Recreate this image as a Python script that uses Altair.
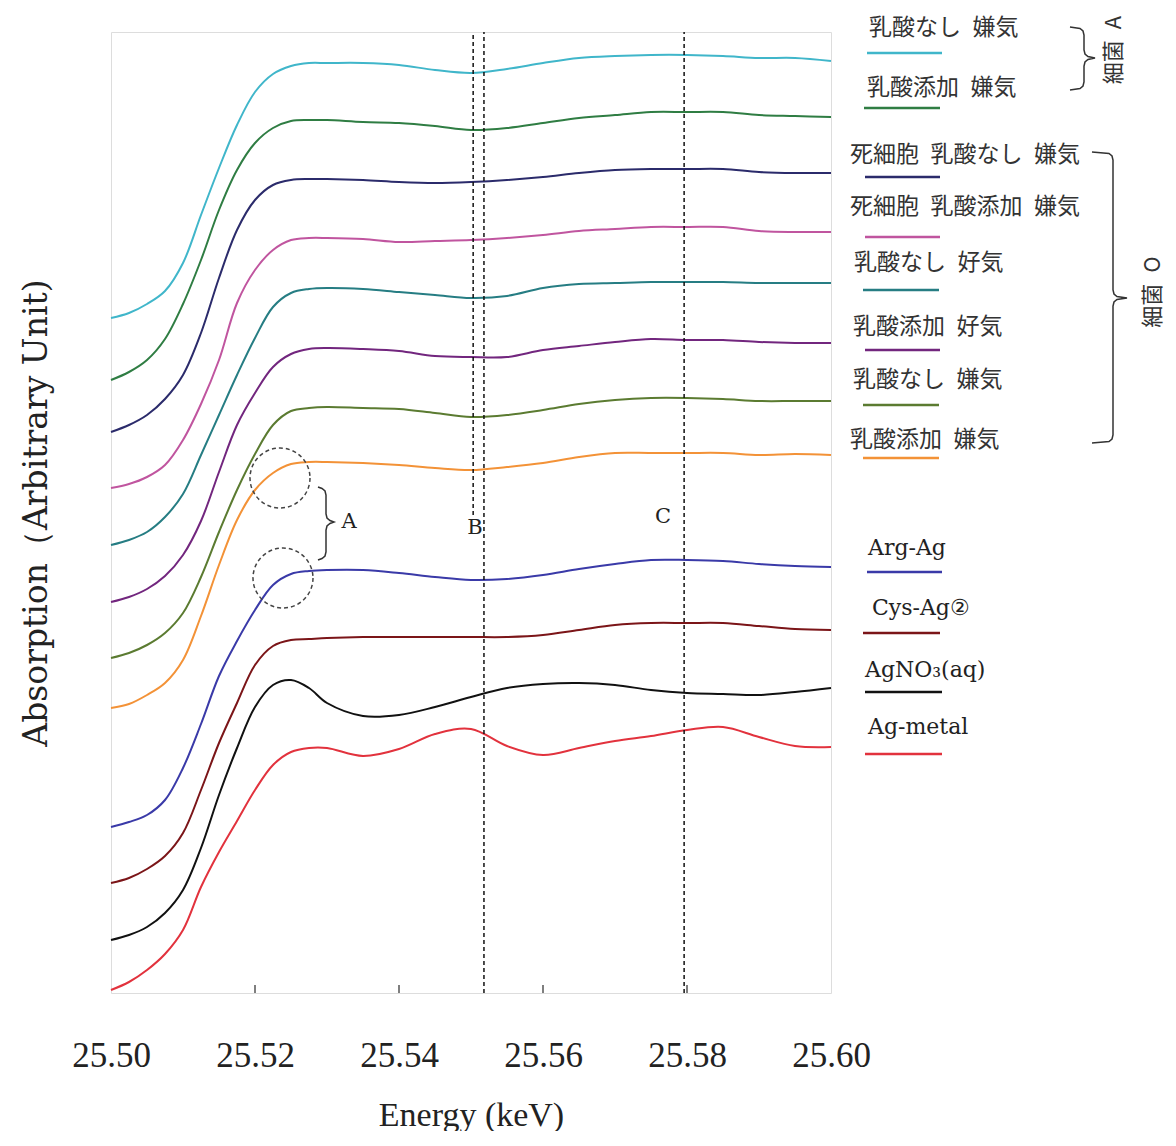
import altair as alt
import pandas as pd

# ---------------- data ----------------
energy = [25.5000, 25.5025, 25.5050, 25.5075, 25.5100, 25.5125, 25.5150, 25.5175,
          25.5200, 25.5225, 25.5250, 25.5275, 25.5300, 25.5350, 25.5400, 25.5450,
          25.5500, 25.5550, 25.5600, 25.5650, 25.5700, 25.5750, 25.5800, 25.5850,
          25.5900, 25.5950, 25.6000]

a_none_an = [6.75, 6.80, 6.89, 7.02, 7.30, 7.78, 8.25, 8.68, 9.01, 9.19, 9.27, 9.30, 9.30, 9.30,
             9.28, 9.23, 9.20, 9.24, 9.30, 9.35, 9.37, 9.38, 9.38, 9.37, 9.35, 9.35, 9.32]
a_lac_an = [6.13, 6.21, 6.33, 6.54, 6.89, 7.33, 7.83, 8.23, 8.50, 8.65, 8.72, 8.73, 8.73, 8.71,
            8.70, 8.67, 8.63, 8.65, 8.70, 8.75, 8.78, 8.81, 8.81, 8.81, 8.78, 8.77, 8.76]
o_dead_none_an = [5.61, 5.68, 5.78, 5.94, 6.18, 6.60, 7.15, 7.63, 7.93, 8.08, 8.13, 8.14, 8.14, 8.13,
                  8.11, 8.10, 8.11, 8.13, 8.16, 8.20, 8.23, 8.24, 8.24, 8.24, 8.21, 8.20, 8.20]
o_dead_lac_an = [5.05, 5.09, 5.16, 5.28, 5.53, 5.89, 6.33, 6.90, 7.23, 7.43, 7.53, 7.55, 7.55, 7.54,
                 7.51, 7.52, 7.53, 7.55, 7.58, 7.62, 7.64, 7.66, 7.66, 7.66, 7.62, 7.61, 7.61]
o_none_aer = [4.48, 4.53, 4.61, 4.76, 4.99, 5.38, 5.78, 6.18, 6.55, 6.86, 7.00, 7.04, 7.05, 7.04,
              7.01, 6.98, 6.95, 6.97, 7.05, 7.09, 7.10, 7.11, 7.11, 7.11, 7.10, 7.10, 7.10]
o_lac_aer = [3.91, 3.96, 4.04, 4.17, 4.38, 4.72, 5.21, 5.68, 6.00, 6.26, 6.39, 6.44, 6.45, 6.44,
             6.42, 6.37, 6.36, 6.36, 6.43, 6.47, 6.51, 6.54, 6.53, 6.53, 6.51, 6.50, 6.50]
o_none_an = [3.35, 3.40, 3.48, 3.60, 3.80, 4.16, 4.61, 5.03, 5.39, 5.68, 5.82, 5.85, 5.86, 5.85,
             5.84, 5.80, 5.76, 5.78, 5.83, 5.89, 5.93, 5.95, 5.95, 5.94, 5.92, 5.92, 5.92]
o_lac_an = [2.85, 2.89, 2.98, 3.10, 3.33, 3.77, 4.28, 4.73, 5.03, 5.20, 5.29, 5.31, 5.31, 5.30,
            5.28, 5.25, 5.23, 5.26, 5.30, 5.36, 5.40, 5.40, 5.40, 5.40, 5.38, 5.39, 5.38]
arg_ag = [1.66, 1.71, 1.78, 1.93, 2.25, 2.69, 3.17, 3.52, 3.83, 4.08, 4.19, 4.22, 4.23, 4.23,
          4.20, 4.16, 4.13, 4.14, 4.18, 4.24, 4.29, 4.33, 4.33, 4.32, 4.29, 4.27, 4.26]
cys_ag = [1.10, 1.15, 1.24, 1.37, 1.60, 2.03, 2.50, 2.90, 3.28, 3.47, 3.53, 3.54, 3.55, 3.56,
          3.56, 3.56, 3.56, 3.56, 3.58, 3.63, 3.68, 3.70, 3.70, 3.70, 3.67, 3.64, 3.63]
agno3 = [0.53, 0.58, 0.66, 0.80, 1.03, 1.45, 1.98, 2.45, 2.86, 3.08, 3.13, 3.05, 2.90, 2.77,
         2.78, 2.86, 2.96, 3.05, 3.09, 3.10, 3.08, 3.03, 3.00, 2.99, 2.98, 3.01, 3.05]
ag_metal = [0.03, 0.11, 0.23, 0.39, 0.63, 1.06, 1.41, 1.72, 2.03, 2.28, 2.41, 2.45, 2.45, 2.37,
            2.44, 2.59, 2.64, 2.47, 2.38, 2.45, 2.52, 2.57, 2.63, 2.66, 2.56, 2.47, 2.46]

series_keys = ["A 乳酸なし 嫌気", "A 乳酸添加 嫌気", "O 死細胞 乳酸なし 嫌気", "O 死細胞 乳酸添加 嫌気",
               "O 乳酸なし 好気", "O 乳酸添加 好気", "O 乳酸なし 嫌気", "O 乳酸添加 嫌気",
               "Arg-Ag", "Cys-Ag②", "AgNO3(aq)", "Ag-metal"]
series_values = [a_none_an, a_lac_an, o_dead_none_an, o_dead_lac_an, o_none_aer, o_lac_aer,
                 o_none_an, o_lac_an, arg_ag, cys_ag, agno3, ag_metal]
series_colors = ["#40b6ca", "#2f7d43", "#2b2b6b", "#c0559f", "#267d83", "#72267e",
                 "#5b7b31", "#f39237", "#3a3aa8", "#7b1518", "#111111", "#e2323d"]

legend_labels = ["乳酸なし\u2002嫌気", "乳酸添加\u2002嫌気", "死細胞\u2002乳酸なし\u2002嫌気",
                 "死細胞\u2002乳酸添加\u2002嫌気", "乳酸なし\u2002好気", "乳酸添加\u2002好気",
                 "乳酸なし\u2002嫌気", "乳酸添加\u2002嫌気",
                 "Arg-Ag", "Cys-Ag②", "AgNO₃(aq)", "Ag-metal"]

marker_lines = [25.5503, 25.5518, 25.5796]   # B (two lines) and C
tick_values = [25.50, 25.52, 25.54, 25.56, 25.58, 25.60]

# ---------------- layout (pixels in the page, converted through the scales) ----------------
PX0, PY0, W, H = 111, 32, 720, 961
X_DOM = [25.5, 25.6]
Y_DOM = [0.0, 9.61]


def ex(px):
    return X_DOM[0] + (px - PX0) / W * (X_DOM[1] - X_DOM[0])


def ay(py):
    return Y_DOM[1] - (py - PY0) / H * (Y_DOM[1] - Y_DOM[0])


legend_text_pos = [(869, 28), (867, 88), (850, 155), (850, 207), (854, 263), (853, 327),
                   (853, 380), (850, 440), (868, 548), (872, 608), (865, 670), (868, 727)]
legend_swatch_pos = [(867, 942, 53), (864, 940, 108), (865, 940, 177), (865, 940, 237),
                     (863, 939, 290), (865, 940, 350), (863, 939, 405), (863, 939, 458),
                     (867, 942, 572), (863, 940, 633), (865, 942, 692), (865, 942, 754)]

xs = alt.Scale(domain=X_DOM, nice=False, zero=False)
ys = alt.Scale(domain=Y_DOM, nice=False, zero=False)
cscale = alt.Scale(domain=series_keys, range=series_colors)

# ---------------- spectra ----------------
rows = []
for key, vals in zip(series_keys, series_values):
    for e, v in zip(energy, vals):
        rows.append({"series": key, "energy": e, "absorption": v})
df = pd.DataFrame(rows)

lines = alt.Chart(df).mark_line(strokeWidth=2, interpolate="catmull-rom").encode(
    x=alt.X("energy:Q", scale=xs, axis=alt.Axis(
        values=tick_values, format=".2f", labelFont="Liberation Serif", labelFontSize=35,
        labelColor="#222", labelPadding=45, labelFlush=False, labelOverlap=False,
        ticks=False, tickSize=0, domain=False, grid=False,
        title="Energy (keV)", titleFont="Liberation Serif", titleFontSize=34,
        titleFontWeight="normal", titleColor="#222", titlePadding=25)),
    y=alt.Y("absorption:Q", scale=ys, axis=alt.Axis(
        labels=False, ticks=False, tickSize=0, domain=False, grid=False,
        title="Absorption（Arbitrary Unit)", titleFont="DejaVu Serif", titleFontSize=33,
        titleFontWeight="normal", titleColor="#222", titlePadding=58)),
    color=alt.Color("series:N", scale=cscale, legend=None),
    detail="series:N",
)

# dashed marker lines B, B', C
dash_df = pd.DataFrame({
    "energy": marker_lines,
    "absorption": [ay(515), Y_DOM[0], Y_DOM[0]],
    "absorption2": [Y_DOM[1], Y_DOM[1], Y_DOM[1]],
})
dashes = alt.Chart(dash_df).mark_rule(color="#111", strokeWidth=1.5, strokeDash=[4, 3]).encode(
    x=alt.X("energy:Q", scale=xs), y=alt.Y("absorption:Q", scale=ys), y2="absorption2:Q")

# inward ticks on the bottom axis
tick_df = pd.DataFrame({"energy": tick_values[1:-1]})
tick_df["absorption"] = Y_DOM[0]
tick_df["absorption2"] = ay(985)
ticks = alt.Chart(tick_df).mark_rule(color="#555", strokeWidth=1.5).encode(
    x=alt.X("energy:Q", scale=xs), y=alt.Y("absorption:Q", scale=ys), y2="absorption2:Q")

# A / B / C labels
abc_df = pd.DataFrame({"energy": [ex(349), ex(475), ex(663)],
                       "absorption": [ay(522), ay(528), ay(517)],
                       "label": ["A", "B", "C"]})
abc = alt.Chart(abc_df).mark_text(font="DejaVu Serif", fontSize=21, color="#222",
                                  align="center", baseline="middle").encode(
    x=alt.X("energy:Q", scale=xs), y=alt.Y("absorption:Q", scale=ys), text="label:N")

# dashed circles
circ_df = pd.DataFrame({"energy": [ex(280), ex(283)], "absorption": [ay(478), ay(578)]})
circles = alt.Chart(circ_df).mark_point(shape="circle", filled=False, size=3600, color="#444",
                                        strokeWidth=1.5, strokeDash=[4, 3], opacity=1).encode(
    x=alt.X("energy:Q", scale=xs), y=alt.Y("absorption:Q", scale=ys))


# braces
def brace(bid, xl, xb, xt, yt, ym, yb):
    pts = [(xl, yt), (xb - 4, yt + 1.5), (xb - 1, yt + 4), (xb, yt + 8), (xb, ym - 8),
           (xb + 1, ym - 4), (xb + 4, ym - 1.5), (xt, ym), (xb + 4, ym + 1.5), (xb + 1, ym + 4),
           (xb, ym + 8), (xb, yb - 8), (xb - 1, yb - 4), (xb - 4, yb - 1.5), (xl, yb)]
    return [{"id": bid, "i": i, "energy": ex(px), "absorption": ay(py)} for i, (px, py) in enumerate(pts)]


brace_df = pd.DataFrame(brace("a", 318, 326, 334, 487, 522, 560)
                        + brace("grpA", 1070, 1084, 1095, 27, 58, 90)
                        + brace("grpO", 1092, 1113, 1127, 152, 298, 443))
braces = alt.Chart(brace_df).mark_line(color="#333", strokeWidth=1.5, interpolate="linear").encode(
    x=alt.X("energy:Q", scale=xs), y=alt.Y("absorption:Q", scale=ys),
    order="i:Q", detail="id:N")

# legend text
leg_df = pd.DataFrame({
    "label": legend_labels,
    "energy": [ex(p[0]) for p in legend_text_pos],
    "absorption": [ay(p[1]) for p in legend_text_pos],
    "kind": ["cjk"] * 8 + ["latin"] * 4,
})
leg_cjk = alt.Chart(leg_df[leg_df.kind == "cjk"]).mark_text(
    font="Noto Sans CJK JP", fontSize=23, color="#333", align="left", baseline="middle").encode(
    x=alt.X("energy:Q", scale=xs), y=alt.Y("absorption:Q", scale=ys), text="label:N")
leg_lat = alt.Chart(leg_df[leg_df.kind == "latin"]).mark_text(
    font="DejaVu Serif", fontSize=22, color="#222", align="left", baseline="middle").encode(
    x=alt.X("energy:Q", scale=xs), y=alt.Y("absorption:Q", scale=ys), text="label:N")

sw_df = pd.DataFrame({
    "series": series_keys,
    "energy": [ex(p[0]) for p in legend_swatch_pos],
    "energy2": [ex(p[1]) for p in legend_swatch_pos],
    "absorption": [ay(p[2]) for p in legend_swatch_pos],
})
swatches = alt.Chart(sw_df).mark_rule(strokeWidth=2.5).encode(
    x=alt.X("energy:Q", scale=xs), x2="energy2:Q", y=alt.Y("absorption:Q", scale=ys),
    color=alt.Color("series:N", scale=cscale, legend=None))

grp_df = pd.DataFrame({"label": ["細菌\u2002A", "細菌\u2002O"],
                       "energy": [ex(1114), ex(1153)], "absorption": [ay(50), ay(292)]})
groups = alt.Chart(grp_df).mark_text(font="Noto Sans CJK JP", fontSize=22, color="#333", angle=270,
                                     align="center", baseline="middle").encode(
    x=alt.X("energy:Q", scale=xs), y=alt.Y("absorption:Q", scale=ys), text="label:N")

chart = alt.layer(lines, dashes, ticks, circles, braces, abc, swatches, leg_cjk, leg_lat, groups).properties(
    width=W, height=H,
    autosize=alt.AutoSizeParams(type="none"),
    padding={"left": PX0 - 8, "top": PY0 - 8, "right": 1176 - 16 - (PX0 - 8) - W, "bottom": 138},
).configure_view(stroke="#555", strokeWidth=2).configure(background="white")

chart.save("out.html", embed_options={"renderer": "svg", "actions": False})
